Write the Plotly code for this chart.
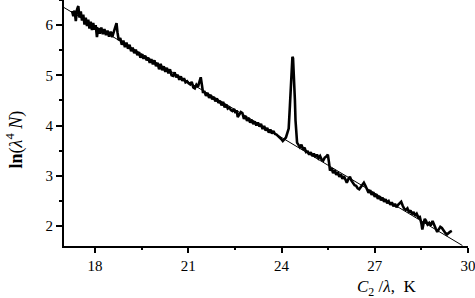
import plotly.graph_objects as go

# Measured spectrum (C2/lambda, ln(lambda^4 N))
x_data = [17.26, 17.30, 17.34, 17.38, 17.42, 17.46, 17.50, 17.54, 17.58, 17.62,
          17.66, 17.70, 17.74, 17.78, 17.82, 17.86, 17.90, 17.94, 17.98, 18.02,
          18.06, 18.10, 18.15, 18.20, 18.25, 18.30, 18.35, 18.40, 18.45, 18.50,
          18.55, 18.60, 18.65, 18.69, 18.72, 18.76, 18.81, 18.86, 18.91, 18.96,
          19.01, 19.06, 19.11, 19.16, 19.21, 19.26, 19.31, 19.36, 19.41, 19.46,
          19.51, 19.56, 19.61, 19.66, 19.71, 19.76, 19.81, 19.86, 19.91, 19.96,
          20.01, 20.06, 20.11, 20.16, 20.21, 20.26, 20.31, 20.36, 20.41, 20.46,
          20.51, 20.56, 20.61, 20.66, 20.71, 20.76, 20.81, 20.86, 20.91, 20.96,
          21.01, 21.06, 21.11, 21.16, 21.21, 21.26, 21.31, 21.36, 21.40, 21.44,
          21.47, 21.52, 21.57, 21.62, 21.67, 21.72, 21.77, 21.82, 21.87, 21.92,
          21.97, 22.02, 22.07, 22.12, 22.17, 22.22, 22.27, 22.32, 22.37, 22.42,
          22.47, 22.52, 22.56, 22.59, 22.64, 22.69, 22.74, 22.79, 22.84, 22.89,
          22.94, 22.99, 23.04, 23.09, 23.14, 23.19, 23.24, 23.29, 23.34, 23.39,
          23.44, 23.49, 23.54, 23.59, 23.64, 23.69, 23.74, 23.79, 23.84, 23.89,
          23.94, 23.99, 24.04, 24.09, 24.14, 24.19, 24.23, 24.27, 24.30, 24.33,
          24.35, 24.37, 24.39, 24.41, 24.43, 24.45, 24.47, 24.50, 24.54, 24.59,
          24.64, 24.69, 24.74, 24.79, 24.84, 24.89, 24.94, 24.99, 25.04, 25.09,
          25.14, 25.19, 25.24, 25.29, 25.34, 25.39, 25.44, 25.49, 25.53, 25.56,
          25.61, 25.66, 25.71, 25.76, 25.81, 25.86, 25.91, 25.96, 26.01, 26.06,
          26.10, 26.15, 26.20, 26.25, 26.30, 26.35, 26.40, 26.45, 26.50, 26.55,
          26.60, 26.65, 26.70, 26.75, 26.80, 26.85, 26.90, 26.95, 27.00, 27.05,
          27.10, 27.15, 27.20, 27.25, 27.30, 27.35, 27.40, 27.45, 27.50, 27.55,
          27.60, 27.65, 27.70, 27.75, 27.80, 27.85, 27.90, 27.95, 28.00, 28.05,
          28.10, 28.15, 28.20, 28.25, 28.30, 28.35, 28.40, 28.45, 28.50, 28.53,
          28.57, 28.61, 28.65, 28.70, 28.75, 28.80, 28.86, 28.91, 28.96, 29.01,
          29.06, 29.11, 29.16, 29.21, 29.27, 29.32, 29.37, 29.42, 29.48]
y_data = [6.28, 6.18, 6.29, 6.08, 6.31, 6.38, 6.15, 6.27, 6.09, 6.21,
          6.01, 6.15, 5.98, 6.11, 5.93, 6.07, 5.90, 6.04, 5.91, 6.00,
          5.76, 5.94, 5.83, 5.95, 5.82, 5.92, 5.80, 5.89, 5.77, 5.87,
          5.76, 5.86, 5.92, 6.04, 5.86, 5.70, 5.74, 5.61, 5.69, 5.56,
          5.65, 5.53, 5.61, 5.48, 5.55, 5.44, 5.51, 5.40, 5.46, 5.35,
          5.42, 5.33, 5.39, 5.30, 5.35, 5.25, 5.32, 5.22, 5.30, 5.18,
          5.25, 5.12, 5.23, 5.10, 5.18, 5.07, 5.15, 5.04, 5.12, 5.00,
          4.99, 5.06, 4.96, 5.01, 4.91, 4.98, 4.89, 4.94, 4.86, 4.88,
          4.84, 4.82, 4.87, 4.76, 4.74, 4.81, 4.77, 4.88, 4.96, 4.80,
          4.67, 4.67, 4.59, 4.65, 4.55, 4.61, 4.52, 4.57, 4.48, 4.54,
          4.45, 4.49, 4.40, 4.47, 4.36, 4.42, 4.34, 4.36, 4.31, 4.29,
          4.33, 4.25, 4.30, 4.17, 4.23, 4.27, 4.25, 4.13, 4.19, 4.09,
          4.15, 4.06, 4.11, 4.03, 4.08, 4.00, 4.06, 3.98, 4.03, 3.93,
          3.99, 3.90, 3.95, 3.86, 3.92, 3.84, 3.89, 3.83, 3.82, 3.79,
          3.78, 3.73, 3.69, 3.72, 3.76, 3.86, 3.94, 4.40, 4.85, 5.30,
          5.37, 5.34, 5.11, 4.80, 4.51, 4.10, 3.78, 3.66, 3.62, 3.57,
          3.62, 3.52, 3.56, 3.47, 3.48, 3.42, 3.47, 3.39, 3.44, 3.37,
          3.42, 3.35, 3.39, 3.32, 3.30, 3.36, 3.38, 3.42, 3.25, 3.10,
          3.15, 3.05, 3.11, 3.02, 3.07, 2.98, 3.03, 2.94, 2.99, 2.89,
          2.86, 2.93, 2.98, 2.90, 2.86, 2.81, 2.80, 2.75, 2.73, 2.78,
          2.82, 2.86, 2.80, 2.72, 2.66, 2.71, 2.62, 2.67, 2.58, 2.63,
          2.54, 2.59, 2.51, 2.56, 2.48, 2.53, 2.45, 2.49, 2.42, 2.47,
          2.39, 2.44, 2.37, 2.42, 2.46, 2.48, 2.40, 2.34, 2.32, 2.35,
          2.27, 2.31, 2.23, 2.28, 2.20, 2.24, 2.17, 2.18, 2.05, 1.93,
          2.05, 2.14, 2.10, 2.03, 2.06, 2.01, 2.10, 2.04, 1.95, 1.88,
          1.92, 1.98, 1.96, 1.90, 1.86, 1.83, 1.86, 1.88, 1.90]

# Linear fit line endpoints
fit_x = [17.0, 29.82]
fit_y = [6.35, 1.61]

fig = go.Figure()
fig.add_trace(go.Scatter(x=fit_x, y=fit_y, mode="lines",
                         line=dict(color="black", width=1), showlegend=False))
fig.add_trace(go.Scatter(x=x_data, y=y_data, mode="lines",
                         line=dict(color="black", width=2.6), showlegend=False))

serif = "Liberation Serif"
fig.update_layout(
    width=475, height=298,
    margin=dict(l=64, r=7, t=0, b=52),
    paper_bgcolor="white", plot_bgcolor="white",
    font=dict(family=serif, color="black"),
    xaxis=dict(range=[17, 30], tickmode="linear", tick0=18, dtick=3,
               showgrid=False, zeroline=False, showline=True, linecolor="black",
               linewidth=2, ticks="outside", ticklen=5, tickwidth=2, tickcolor="black",
               tickfont=dict(family=serif, size=15), automargin=False,
               ticklabeloverflow="allow",
               minor=dict(dtick=1.5, tick0=16.5, ticks="outside", ticklen=2,
                          tickwidth=2, tickcolor="black", showgrid=False)),
    yaxis=dict(range=[1.6, 6.5], tickmode="linear", tick0=2, dtick=1,
               showgrid=False, zeroline=False, showline=True, linecolor="black",
               linewidth=2, ticks="outside", ticklen=6, tickwidth=2, tickcolor="black",
               tickfont=dict(family=serif, size=15), automargin=False,
               ticklabeloverflow="allow",
               minor=dict(dtick=0.5, tick0=1.5, ticks="outside", ticklen=3,
                          tickwidth=2, tickcolor="black", showgrid=False)),
    annotations=[
        dict(text="<i>C</i><sub>2</sub> /<i>λ</i>,  K", xref="paper", yref="paper",
             x=(355 - 64) / 404, y=-0.117, xanchor="left", yanchor="top",
             showarrow=False, font=dict(family=serif, size=17)),
        dict(text="<b>ln</b>(<i>λ</i><sup>4</sup> <i>N</i>)", xref="paper", yref="paper",
             x=-0.119, y=0.433, xanchor="center", yanchor="middle", showarrow=False,
             textangle=-90, font=dict(family=serif, size=18)),
    ],
)

fig.write_html("out.html", config={"displayModeBar": False},
               post_script="document.body.style.margin='0';document.body.style.padding='0';")
